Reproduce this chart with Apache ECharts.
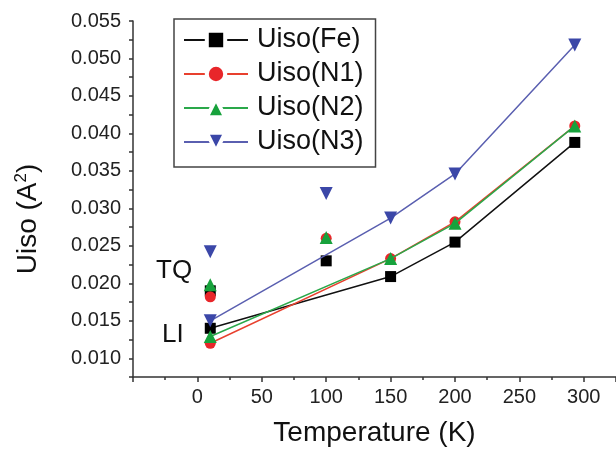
<!DOCTYPE html>
<html>
<head>
<meta charset="utf-8">
<script src="https://cdn.jsdelivr.net/npm/echarts@6/dist/echarts.min.js"></script>
<style>
  html, body { margin: 0; padding: 0; background: #fff; }
  #chart { width: 616px; height: 452px; }
</style>
</head>
<body>
<div id="chart"></div>
<script>
// Températures (K) : points reliés par les lignes, puis points isolés (TQ à 10 K, 100 K)
const tLigne = [10, 150, 200, 293];
const tIsoles = [10, 100];

const noms = ["Uiso(Fe)", "Uiso(N1)", "Uiso(N2)", "Uiso(N3)"];

// Uiso (A²) sur les lignes (10 K = LI)
const feLigne = [0.0140, 0.0209, 0.0255, 0.0388];
const n1Ligne = [0.0120, 0.0233, 0.0282, 0.0410];
const n2Ligne = [0.0129, 0.0233, 0.0280, 0.0410];
const n3Ligne = [0.0150, 0.0287, 0.0346, 0.0518];

// Uiso (A²) des points isolés (10 K = TQ, 100 K)
const feIsoles = [0.0190, 0.0230];
const n1Isoles = [0.0182, 0.0260];
const n2Isoles = [0.0198, 0.0261];
const n3Isoles = [0.0242, 0.0320];

const couleurs = ["#000000", "#e8262a", "#17a23c", "#3b47a8"];
const couleursLigne = ["#111111", "#e8402e", "#2aa84a", "#5a5fb0"];
const symboles = ["rect", "circle", "triangle", "triangle"];
const tailles = [11, 11, 13, 13];
const rotations = [0, 0, 0, 180];

const lignes = [feLigne, n1Ligne, n2Ligne, n3Ligne];
const isoles = [feIsoles, n1Isoles, n2Isoles, n3Isoles];

const paires = (xs, ys) => xs.map((x, i) => [x, ys[i]]);
const police = "'Liberation Sans', Arial, sans-serif";

const series = [];
noms.forEach((nom, i) => {
  series.push({
    name: nom,
    type: "line",
    data: paires(tLigne, lignes[i]),
    symbol: symboles[i],
    symbolSize: tailles[i],
    symbolRotate: rotations[i],
    itemStyle: { color: couleurs[i] },
    lineStyle: { color: couleursLigne[i], width: 1.5 },
    z: 2 + i,
  });
});
noms.forEach((nom, i) => {
  series.push({
    name: nom,
    type: "scatter",
    data: paires(tIsoles, isoles[i]),
    symbol: symboles[i],
    symbolSize: tailles[i],
    symbolRotate: rotations[i],
    itemStyle: { color: couleurs[i], opacity: 1 },
    z: 2 + i,
  });
});

const chart = echarts.init(document.getElementById("chart"));
chart.setOption({
  animation: false,
  backgroundColor: "#ffffff",
  textStyle: { fontFamily: police },
  grid: { left: 133, right: 0, top: 21, bottom: 75, outerBoundsMode: "none", containLabel: false },
  legend: {
    data: noms,
    orient: "vertical",
    left: 174,
    top: 19,
    width: 200,
    padding: [7, 12, 11, 9],
    itemWidth: 64,
    itemHeight: 23,
    itemGap: 6,
    borderColor: "#444",
    borderWidth: 1.5,
    itemStyle: { borderColor: "#ffffff", borderWidth: 4 },
    textStyle: { fontSize: 27, color: "#111", lineHeight: 28, fontFamily: police, padding: [0, 0, 0, 4] },
  },
  xAxis: {
    type: "value",
    min: -50,
    max: 325,
    interval: 50,
    name: "Temperature (K)",
    nameLocation: "middle",
    nameGap: 42,
    nameTextStyle: { fontSize: 28, color: "#111", fontFamily: police },
    axisLine: { show: true, onZero: false, lineStyle: { color: "#333", width: 1.5 } },
    axisTick: { show: true, length: 5, lineStyle: { color: "#333", width: 1.5 } },
    minorTick: { show: true, splitNumber: 2, length: 3, lineStyle: { color: "#333", width: 1.5 } },
    axisLabel: { fontSize: 20, color: "#222", margin: 10, showMinLabel: false, showMaxLabel: false },
    splitLine: { show: false },
  },
  yAxis: {
    type: "value",
    min: 0.0075,
    max: 0.055,
    interval: 0.0025,
    name: "Uiso (A{sup|2})",
    nameLocation: "middle",
    nameGap: 89,
    nameRotate: 90,
    nameTextStyle: {
      fontSize: 28,
      color: "#111",
      fontFamily: police,
      padding: [0, 40, 0, 0],
      rich: { sup: { fontSize: 17, verticalAlign: "top", padding: [0, 0, 14, 0], fontFamily: police, color: "#111" } },
    },
    axisLine: { show: true, onZero: false, lineStyle: { color: "#333", width: 1.5 } },
    axisTick: { show: true, length: 4, lineStyle: { color: "#333", width: 1.5 } },
    axisLabel: {
      fontSize: 20,
      color: "#222",
      margin: 12,
      formatter: (v) => {
        const k = Math.round(v * 1000 * 2) / 2;
        return Math.abs(k / 5 - Math.round(k / 5)) < 1e-6 ? (k / 1000).toFixed(3) : "";
      },
    },
    splitLine: { show: false },
  },
  graphic: [
    { type: "text", left: 156, top: 258, style: { text: "TQ", fontSize: 26, fill: "#111", fontFamily: police } },
    { type: "text", left: 162, top: 322, style: { text: "LI", fontSize: 26, fill: "#111", fontFamily: police } },
  ],
  series: series,
});
</script>
</body>
</html>
